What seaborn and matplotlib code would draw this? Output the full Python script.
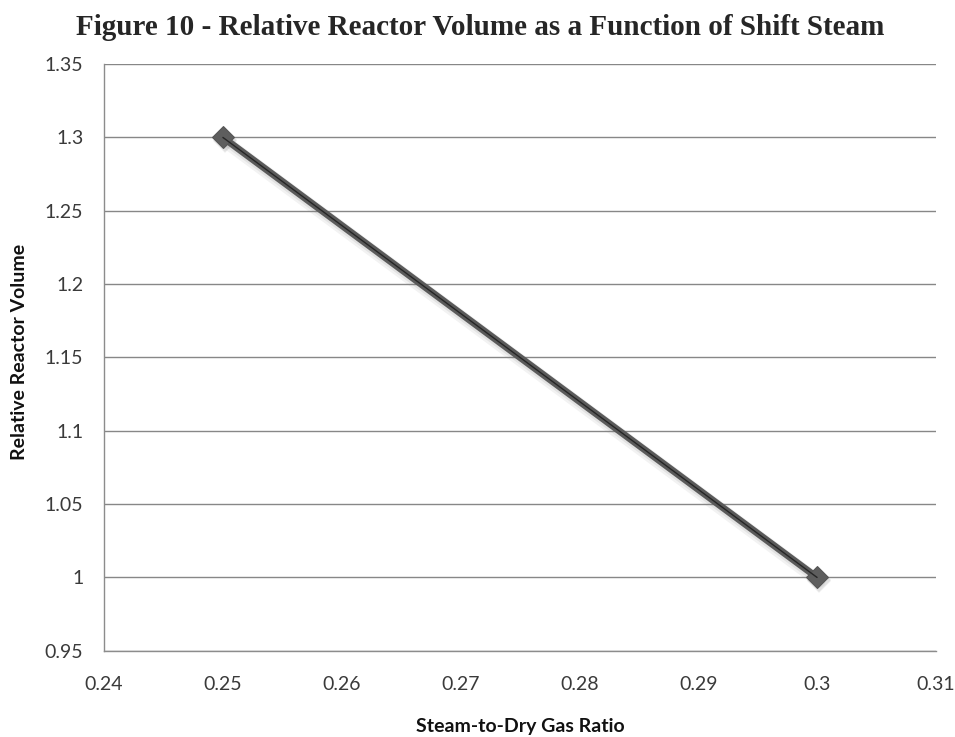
import matplotlib
matplotlib.use("Agg")
import matplotlib.pyplot as plt
import matplotlib.transforms as mtransforms
import seaborn as sns
import pandas as pd

steam_ratio = [0.25, 0.30]
relative_volume = [1.30, 1.00]
x_ticks = [0.24, 0.25, 0.26, 0.27, 0.28, 0.29, 0.30, 0.31]
x_tick_labels = ["0.24", "0.25", "0.26", "0.27", "0.28", "0.29", "0.3", "0.31"]
y_ticks = [0.95, 1.0, 1.05, 1.1, 1.15, 1.2, 1.25, 1.3, 1.35]
y_tick_labels = ["0.95", "1", "1.05", "1.1", "1.15", "1.2", "1.25", "1.3", "1.35"]

sns.set_style("white")
plt.rcParams["font.family"] = ["Lato", "DejaVu Sans"]

df = pd.DataFrame({"ratio": steam_ratio, "volume": relative_volume})

fig = plt.figure(figsize=(9.55, 7.37), dpi=100)
ax = fig.add_axes([0.109, 0.117, 0.871, 0.796])

# soft drop shadow under the series
for dx, dy, a, lw in [(2, -4, 0.10, 9), (2, -3, 0.15, 6.5)]:
    shift = mtransforms.offset_copy(ax.transData, fig=fig, x=dx, y=dy, units="dots")
    sns.lineplot(data=df, x="ratio", y="volume", ax=ax, color="#808080", alpha=a,
                 linewidth=lw, marker="D", markersize=12, markeredgewidth=0,
                 transform=shift, zorder=2)

sns.lineplot(data=df, x="ratio", y="volume", ax=ax, color="#5a5a5a", linewidth=5,
             marker="D", markersize=11, markerfacecolor="#5e5e5e", markeredgecolor="#555555",
             zorder=3)
sns.lineplot(data=df, x="ratio", y="volume", ax=ax, color="#262626", linewidth=1.0, zorder=4)

ax.set_xlim(0.24, 0.31)
ax.set_ylim(0.95, 1.35)
ax.set_xticks(x_ticks)
ax.set_xticklabels(x_tick_labels)
ax.set_yticks(y_ticks)
ax.set_yticklabels(y_tick_labels)
ax.tick_params(axis="both", length=0, labelsize=14, labelcolor="#3a3a3a")
ax.tick_params(axis="x", pad=18)
ax.tick_params(axis="y", pad=15)

ax.grid(axis="y", color="#878787", linewidth=1.0)
ax.grid(axis="x", visible=False)
for side in ["top", "right"]:
    ax.spines[side].set_visible(False)
for side in ["left", "bottom"]:
    ax.spines[side].set_color("#8c8c8c")
    ax.spines[side].set_linewidth(1.0)

ax.set_xlabel("Steam-to-Dry Gas Ratio", fontsize=14, fontweight="bold", color="#111111")
ax.xaxis.label.set_va("center")
ax.xaxis.set_label_coords(0.5, -0.1295)
ax.set_ylabel("Relative Reactor Volume", fontsize=14, fontweight="bold", color="#111111")
ax.yaxis.label.set_va("center")
ax.yaxis.set_label_coords(-0.102, 0.509)

fig.text(0.503, 0.9525, "Figure 10 - Relative Reactor Volume as a Function of Shift Steam",
         ha="center", va="baseline", fontsize=21, fontweight="bold", family="Liberation Serif")

fig.savefig("out.png", dpi=100)
